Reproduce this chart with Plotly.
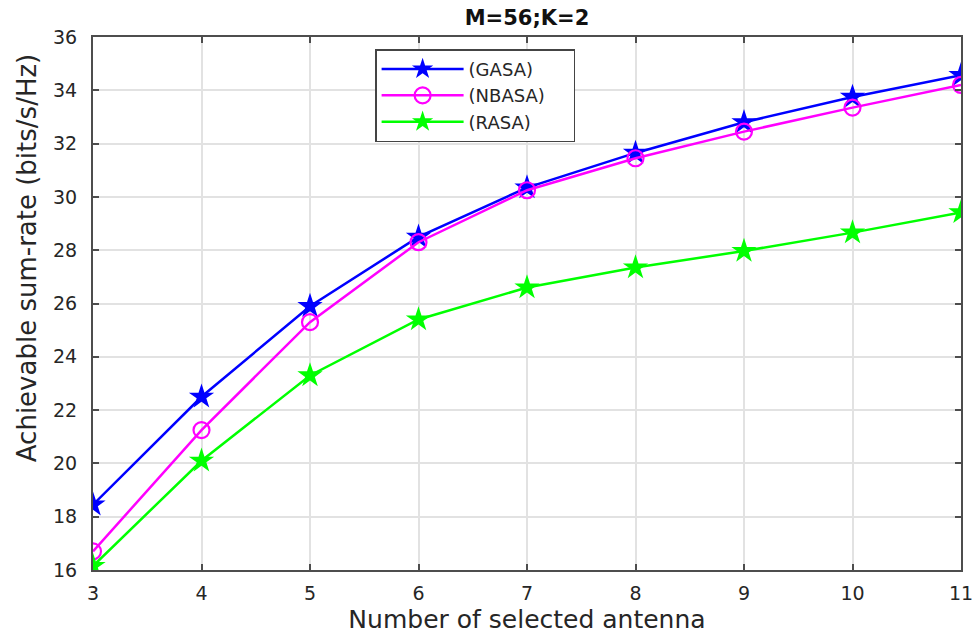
import plotly.graph_objects as go

# Number of selected antennas
antennas = [3, 4, 5, 6, 7, 8, 9, 10, 11]

# Achievable sum-rate (bits/s/Hz) per selection scheme
gasa = [18.45, 22.5, 25.9, 28.5, 30.35, 31.65, 32.8, 33.75, 34.57]
nbasa = [16.7, 21.25, 25.3, 28.3, 30.25, 31.45, 32.45, 33.35, 34.2]
rasa = [16.15, 20.1, 23.3, 25.4, 26.6, 27.35, 27.97, 28.66, 29.42]

x_ticks = [3, 4, 5, 6, 7, 8, 9, 10, 11]
y_ticks = [16, 18, 20, 22, 24, 26, 28, 30, 32, 34, 36]

FONT = "DejaVu Sans, Arial, sans-serif"
TEXT = "#262626"
PAD = "\u00a0" * 4  # widens the legend box a little past the longest label

fig = go.Figure()
fig.add_trace(go.Scatter(
    x=antennas, y=gasa, name="(GASA)", mode="lines+markers",
    line=dict(color="#0000ff", width=2.5),
    marker=dict(symbol="star", size=19, color="#0000ff"),
))
fig.add_trace(go.Scatter(
    x=antennas, y=nbasa, name="(NBASA)" + PAD, mode="lines+markers",
    line=dict(color="#ff00ff", width=2.5),
    marker=dict(symbol="circle-open", size=16, color="#ff00ff", line=dict(width=2.2)),
))
fig.add_trace(go.Scatter(
    x=antennas, y=rasa, name="(RASA)", mode="lines+markers",
    line=dict(color="#00ff00", width=2.5),
    marker=dict(symbol="star", size=19, color="#00ff00"),
))

axis_common = dict(
    showline=True, linecolor="#4d4d4d", linewidth=2.2, mirror="ticks",
    ticks="inside", ticklen=6, tickcolor="#4d4d4d", tickwidth=1.5,
    showgrid=True, gridcolor="#e2e2e2", gridwidth=1.5,
    zeroline=False, automargin=False,
    tickfont=dict(family=FONT, size=19, color=TEXT),
)

fig.update_layout(
    width=976, height=638,
    margin=dict(l=93, r=15, t=37, b=68),
    paper_bgcolor="white", plot_bgcolor="white",
    title=dict(text="<b>M=56;K=2</b>", xref="paper", x=0.5, xanchor="center",
               y=0.972, yanchor="middle",
               font=dict(family=FONT, size=21, color="#111111")),
    xaxis=dict(range=[3, 11], tickvals=x_ticks, ticklabelstandoff=5,
               title=dict(text="Number of selected antenna", standoff=8,
                          font=dict(family=FONT, size=25, color=TEXT)),
               **axis_common),
    yaxis=dict(range=[16, 36], tickvals=y_ticks, ticklabelstandoff=10,
               **axis_common),
    legend=dict(x=0.325, y=0.977, xanchor="left", yanchor="top",
                bgcolor="white", bordercolor="#444444", borderwidth=1.5,
                font=dict(family=FONT, size=18, color=TEXT),
                tracegroupgap=0, itemwidth=82),
    showlegend=True,
)

# y-axis title, placed slightly above the plot's vertical centre
fig.add_annotation(
    text="Achievable sum-rate (bits/s/Hz)", textangle=-90,
    xref="paper", yref="paper", x=-0.076, y=0.585,
    xanchor="center", yanchor="middle", showarrow=False,
    font=dict(family=FONT, size=26, color=TEXT),
)

fig.write_html("out.html")
